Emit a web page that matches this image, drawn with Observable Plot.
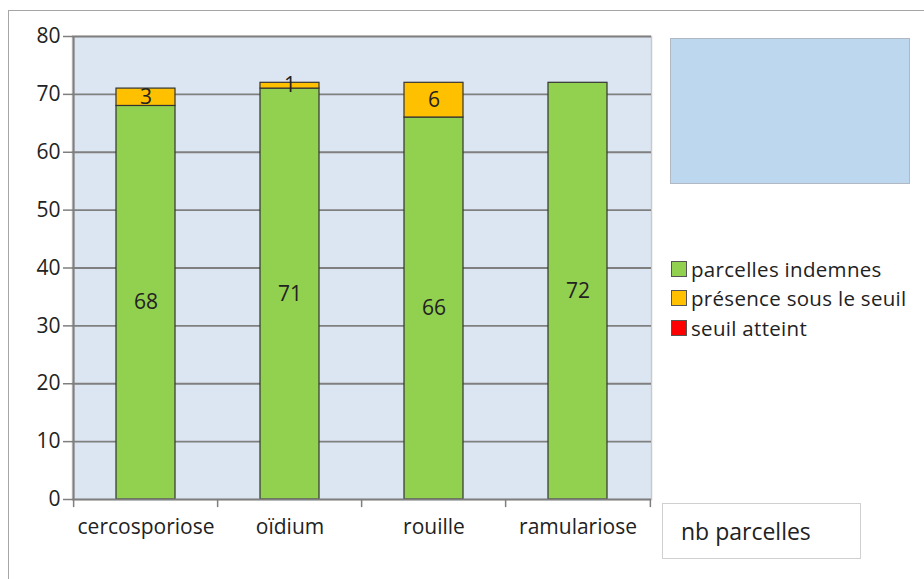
<!DOCTYPE html>
<html>
<head>
<meta charset="utf-8">
<script src="https://cdn.jsdelivr.net/npm/d3@7"></script>
<script src="https://cdn.jsdelivr.net/npm/@observablehq/plot@0.6"></script>
<style>
  html, body { margin: 0; padding: 0; background: #ffffff; }
  #wrap { position: relative; width: 924px; height: 579px; overflow: hidden; font-family: "Open Sans", sans-serif; }
  #wrap svg { position: absolute; left: 0; top: 0; }
  .border { position: absolute; left: 8px; top: 10px; width: 930px; height: 600px; border-left: 1.5px solid #a6a6a6; border-top: 1.5px solid #a6a6a6; }
  .bluebox { position: absolute; left: 670px; top: 38px; width: 238px; height: 144px; background: #bdd7ee; border: 1px solid #b0b8c4; }
  .legend { position: absolute; left: 671px; top: 254px; font-size: 20.5px; color: #222; letter-spacing: 0.3px; }
  .legend .item { display: flex; align-items: center; height: 29.5px; white-space: nowrap; }
  .legend .sw { width: 14px; height: 14px; border: 1.5px solid #555; margin-right: 4px; }
  .nbbox { position: absolute; left: 662px; top: 503px; width: 199px; height: 56px; border: 1px solid #d0d0d0; background: #fff; font-size: 23px; color: #222; box-sizing: border-box; padding-left: 18px; line-height: 54px; }
</style>
</head>
<body>
<div id="wrap">
  <div class="border"></div>
</div>
<script>
const categories = ["cercosporiose", "oïdium", "rouille", "ramulariose"];
const seriesNames = ["parcelles indemnes", "présence sous le seuil", "seuil atteint"];
const indemnes = [68, 71, 66, 72];
const sousSeuil = [3, 1, 6, 0];
const seuilAtteint = [0, 0, 0, 0];
const seriesColors = ["#92d050", "#ffc000", "#ff0000"];
const yTicks = [0, 10, 20, 30, 40, 50, 60, 70, 80];
const boxLabel = "nb parcelles";

const seriesValues = [indemnes, sousSeuil, seuilAtteint];
const data = categories.flatMap((c, i) =>
  seriesNames.map((s, j) => ({category: c, series: s, value: seriesValues[j][i]}))
);

const W = 924, H = 579;
const mL = 72, mR = 273, mT = 36, mB = 80;
const step = (W - mL - mR) / categories.length;

const chart = Plot.plot({
  width: W,
  height: H,
  marginLeft: mL,
  marginRight: mR,
  marginTop: mT,
  marginBottom: mB,
  style: {fontFamily: "Open Sans, sans-serif", fontSize: "20px", color: "#222", background: "transparent", overflow: "visible"},
  x: {domain: categories, paddingInner: 0.59, paddingOuter: 0.295, label: null},
  y: {domain: [0, 80], label: null},
  color: {domain: seriesNames, range: seriesColors},
  marks: [
    Plot.frame({fill: "#dce6f2", stroke: "#c9c9c9", strokeWidth: 1.5}),
    Plot.ruleY(yTicks.filter(d => d > 0), {stroke: "#7f7f7f", strokeWidth: 1.8}),
    Plot.barY(data, {x: "category", y: "value", fill: "series", stroke: "#333", strokeWidth: 1.2, filter: d => d.value > 0}),
    Plot.text(data, Plot.stackY({x: "category", y: "value", z: "series", text: d => String(d.value), filter: d => d.value > 0, fontSize: 21, fill: "#222"})),
    Plot.ruleY([0], {stroke: "#7f7f7f", strokeWidth: 2}),
    Plot.ruleX([categories[0]], {dx: -step / 2, y1: 0, y2: 80, stroke: "#7f7f7f", strokeWidth: 2}),
    Plot.ruleX(categories, {dx: -step / 2, y1: 0, y2: -1.4, stroke: "#7f7f7f", strokeWidth: 1.5}),
    Plot.ruleX([categories[categories.length - 1]], {dx: step / 2, y1: 0, y2: -1.4, stroke: "#7f7f7f", strokeWidth: 1.5}),
    Plot.axisY({ticks: yTicks, tickSize: 9, tickPadding: 3, stroke: "#7f7f7f", strokeWidth: 1.5, fontSize: 21, label: null}),
    Plot.axisX({tickSize: 0, tickPadding: 20, fontSize: 21, label: null})
  ]
});
const wrap = document.getElementById("wrap");
wrap.appendChild(chart);

const blue = document.createElement("div");
blue.className = "bluebox";
wrap.appendChild(blue);

const legend = document.createElement("div");
legend.className = "legend";
seriesNames.forEach((s, i) => {
  const item = document.createElement("div");
  item.className = "item";
  const sw = document.createElement("div");
  sw.className = "sw";
  sw.style.background = seriesColors[i];
  const t = document.createElement("span");
  t.textContent = s;
  item.appendChild(sw);
  item.appendChild(t);
  legend.appendChild(item);
});
wrap.appendChild(legend);

const nb = document.createElement("div");
nb.className = "nbbox";
nb.textContent = boxLabel;
wrap.appendChild(nb);
</script>
</body>
</html>
